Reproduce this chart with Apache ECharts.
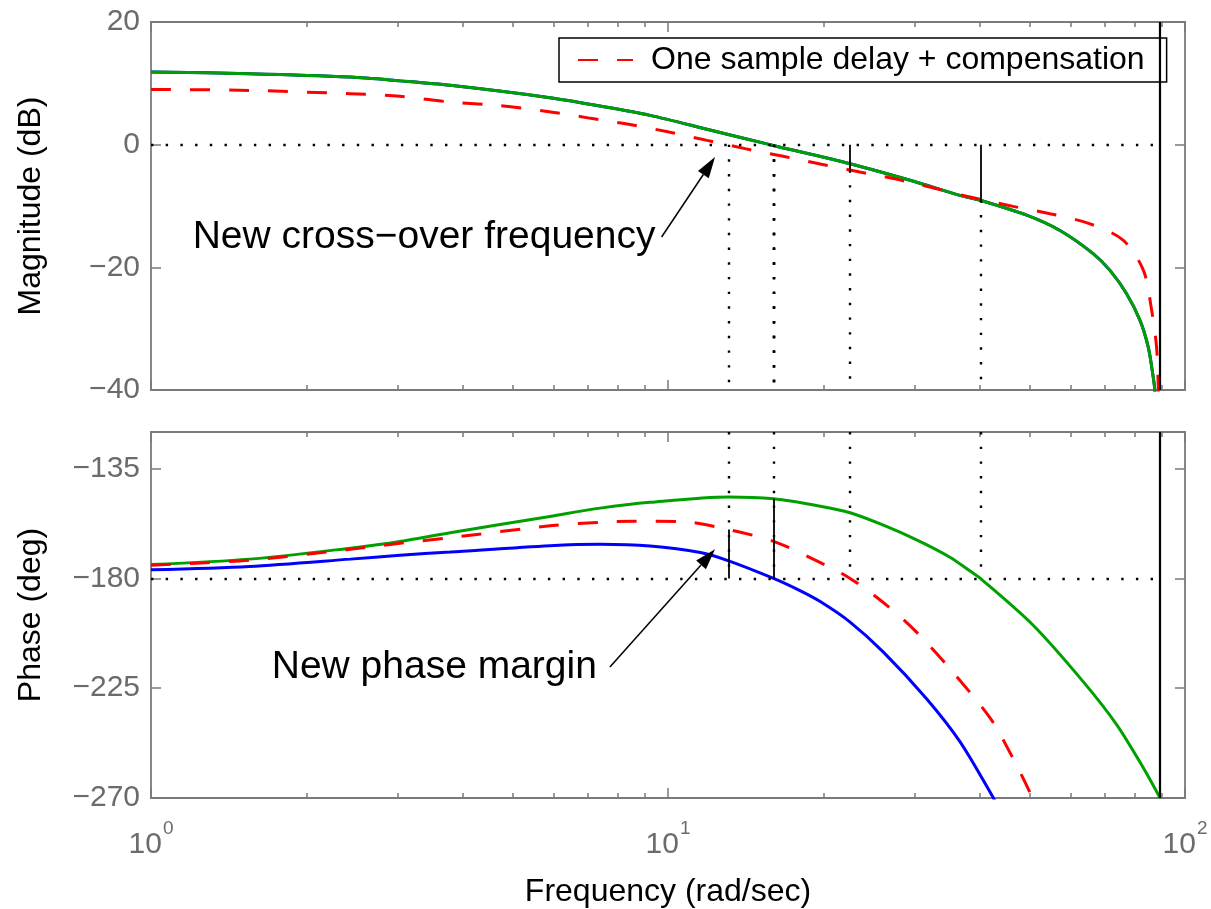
<!DOCTYPE html>
<html>
<head>
<meta charset="utf-8">
<script src="https://cdn.jsdelivr.net/npm/echarts@6/dist/echarts.min.js"></script>
<style>
  html, body { margin: 0; padding: 0; background: #ffffff; }
  #chart { width: 1211px; height: 909px; }
</style>
</head>
<body>
<div id="chart"></div>
<script>
// ---- Axis ranges and tick values ----
const freqRange = [1, 100];                       // rad/sec
const freqMajorTicks = [1, 10, 100];
const freqMinorTicks = [2, 3, 4, 5, 6, 7, 8, 9, 20, 30, 40, 50, 60, 70, 80, 90];
const magRange = [-40, 20];                       // dB
const magTicks = [-40, -20, 0, 20];
const phaseRange = [-270, -120];                  // deg
const phaseTicks = [-270, -225, -180, -135];

// ---- Loop magnitude (the sample delay does not change magnitude) ----
const magFreqOriginal = [1.0, 1.55, 2.43, 3.03, 3.79, 5.91, 7.39, 9.23, 12.0, 15.75, 22.5, 29.4, 36.7, 40.2, 49.4, 57.3, 66.5, 71.6, 77.1, 81.8, 84.9, 86.8, 87.4, 88.2];
const magOriginal     = [11.85, 11.57, 11.02, 10.4, 9.67, 7.66, 6.3, 4.78, 2.44, 0, -3.1, -5.8, -8.27, -9.08, -11.5, -14.0, -17.8, -20.5, -24.3, -28.6, -33.0, -37.9, -40, -48];

// ---- Magnitude with one sample delay + compensation ----
const magFreqComp = [1.0, 1.55, 2.43, 3.03, 3.79, 4.7, 6.07, 7.09, 8.44, 10.05, 11.9, 14.1, 16.7, 19.8, 23.5, 27.9, 33.1, 37.8, 46.5, 54.8, 65.5, 76.0, 83.1, 86.2, 88.1, 88.8, 89.3];
const magComp     = [9.0, 8.85, 8.3, 7.9, 6.95, 6.4, 5.22, 4.29, 3.28, 2.05, 0.7, -0.65, -1.9, -3.2, -4.45, -5.7, -7.2, -8.4, -10.06, -11.25, -12.9, -15.6, -20.5, -27, -33, -40, -50];

// ---- Phase: original loop ----
const phaseFreqOriginal = [1.0, 1.55, 2.43, 3.03, 3.79, 5.91, 7.39, 9.23, 13.1, 16.0, 19.7, 22.5, 26.1, 30.4, 35.1, 38.4, 40.2, 50.9, 63.6, 73.8, 83.1, 89.5];
const phaseOriginal     = [-174.3, -172.1, -167.6, -164.9, -161.25, -154.6, -151.2, -148.8, -146.6, -147.4, -150.4, -153.1, -158.2, -164.4, -171.3, -177.0, -180, -199.3, -222.4, -240, -257.7, -270];

// ---- Phase: with one sample delay ----
const phaseFreqDelay = [1.0, 1.55, 2.43, 3.03, 3.79, 5.91, 7.39, 9.23, 11.55, 13.1, 16.0, 18.0, 19.7, 22.5, 26.1, 31.6, 36.7, 42.6, 43.5];
const phaseDelay     = [-176.5, -175.1, -172.1, -170.5, -169.2, -166.6, -166.0, -166.7, -169.4, -172.8, -180, -185, -189.5, -197.9, -210.2, -229.2, -246.9, -270, -274];

// ---- Phase: one sample delay + compensation ----
const phaseFreqComp = [1.0, 1.55, 2.43, 3.03, 3.79, 5.91, 7.39, 8.56, 10.7, 13.1, 16.0, 19.4, 22.5, 26.3, 30.05, 35.1, 42.0, 46.0, 50.1, 52.0];
const phaseComp     = [-174.6, -172.5, -168.1, -165.6, -163.3, -158.45, -157.0, -156.6, -156.8, -160, -164.8, -172.8, -180, -190.5, -201.4, -217, -237.3, -251.9, -267.6, -276];

// ---- Stability margins: [compensated, original, delayed] ----
const crossoverFreqs   = [13.1, 16.0, 16.0];      // 0 dB crossings
const phaseAtCrossover = [-160, -147.4, -180];
const phaseCrossFreqs  = [22.5, 40.2, 16.0];      // -180 deg crossings
const magAtPhaseCross  = [-4.2, -9.08, 0];
const nyquistFreq = 89.5;

const legendLabel = 'One sample delay + compensation';

// ---- Styling ----
const FONT = '"Liberation Sans", Arial, Helvetica, sans-serif';
const TICK_GREY = '#6b6b6b';
const LINE_GREY = '#7a7a7a';
const GREEN = '#00a000', RED = '#ff0000', BLUE = '#0000ff';

const chart = echarts.init(document.getElementById('chart'), null, { renderer: 'canvas' });

const minus = v => String(v).replace('-', '\u2212');

function freqAxis(gridIndex, position, ticks, len, extra) {
  return Object.assign({
    type: 'log', logBase: 10, gridIndex, position,
    min: freqRange[0], max: freqRange[1],
    axisLine: { show: false, onZero: false },
    axisTick: { show: true, inside: true, length: len, customValues: ticks,
                lineStyle: { color: LINE_GREY, width: 1.5 } },
    axisLabel: { show: false },
    splitLine: { show: false }, minorTick: { show: false },
    silent: true
  }, extra || {});
}
const boxLine = { show: true, onZero: false, lineStyle: { color: LINE_GREY, width: 1.8 } };

function valueAxis(gridIndex, position, range, ticks, withLabels, name) {
  const ax = {
    type: 'value', gridIndex, position, min: range[0], max: range[1],
    axisLine: boxLine,
    axisTick: { show: true, inside: true, length: 10, customValues: ticks,
                lineStyle: { color: LINE_GREY, width: 1.5 } },
    axisLabel: { show: withLabels, customValues: ticks, formatter: minus, margin: 11,
                 color: TICK_GREY, fontSize: 30, fontFamily: FONT },
    splitLine: { show: false }, silent: true
  };
  if (name) {
    Object.assign(ax, { name, nameLocation: 'middle', nameGap: 104, nameRotate: 90,
      nameTextStyle: { color: '#000', fontSize: 32, fontFamily: FONT } });
  }
  return ax;
}

const xAxes = [];
[0, 1].forEach(g => {
  const bottomMajor = { axisLine: boxLine };
  if (g === 1) {
    Object.assign(bottomMajor, {
      axisLabel: {
        show: true, customValues: freqMajorTicks, margin: 32,
        formatter: v => '{b|10}{s|' + Math.round(Math.log10(v)) + '}',
        rich: {
          b: { fontSize: 30, lineHeight: 30, fontFamily: FONT, color: TICK_GREY, verticalAlign: 'bottom' },
          s: { fontSize: 19, lineHeight: 19, fontFamily: FONT, color: TICK_GREY, verticalAlign: 'bottom', padding: [0, 0, 22, 1] }
        }
      },
      name: 'Frequency (rad/sec)', nameLocation: 'middle', nameGap: 78,
      nameTextStyle: { color: '#000', fontSize: 32, fontFamily: FONT }
    });
  }
  xAxes.push(freqAxis(g, 'bottom', freqMajorTicks, 10, bottomMajor));
  xAxes.push(freqAxis(g, 'bottom', freqMinorTicks, 5));
  xAxes.push(freqAxis(g, 'top', freqMajorTicks, 10, { axisLine: boxLine }));
  xAxes.push(freqAxis(g, 'top', freqMinorTicks, 5));
});

const yAxes = [
  valueAxis(0, 'left', magRange, magTicks, true, 'Magnitude (dB)'),
  valueAxis(0, 'right', magRange, magTicks, false),
  valueAxis(1, 'left', phaseRange, phaseTicks, true, 'Phase (deg)'),
  valueAxis(1, 'right', phaseRange, phaseTicks, false)
];

// ---- Guide lines (margins, reference levels, Nyquist frequency) ----
const dotted = { color: '#000', width: 2.4, type: [2.4, 12.3], cap: 'butt' };
const solid = { color: '#000', width: 1.8, type: 'solid' };
const nyquistStyle = { color: '#000', width: 2.2, type: 'solid' };
const seg = (a, b, style) => [{ coord: a, lineStyle: style }, { coord: b }];

const magGuides = [seg([freqRange[0], 0], [nyquistFreq, 0], dotted)];
crossoverFreqs.forEach(f => magGuides.push(seg([f, 0], [f, magRange[0]], dotted)));
phaseCrossFreqs.forEach((f, i) => {
  const m = magAtPhaseCross[i];
  if (m !== 0) magGuides.push(seg([f, 0], [f, m], solid));
  magGuides.push(seg([f, m], [f, magRange[0]], dotted));
});
magGuides.push(seg([nyquistFreq, magRange[1]], [nyquistFreq, magRange[0]], nyquistStyle));

const phaseGuides = [seg([freqRange[0], -180], [nyquistFreq, -180], dotted)];
Array.from(new Set(crossoverFreqs.concat(phaseCrossFreqs))).forEach(f =>
  phaseGuides.push(seg([f, phaseRange[1]], [f, -180], dotted)));
crossoverFreqs.forEach((f, i) => {
  const p = phaseAtCrossover[i];
  if (p !== -180) phaseGuides.push(seg([f, -180], [f, p], solid));
});
phaseGuides.push(seg([nyquistFreq, phaseRange[1]], [nyquistFreq, phaseRange[0]], nyquistStyle));

function guideLines(data) {
  return { silent: true, symbol: ['none', 'none'], animation: false,
           label: { show: false }, emphasis: { disabled: true }, data };
}

function curve(name, grid, xs, ys, color, dashed, guides) {
  const s = {
    type: 'line', name, xAxisIndex: grid * 4, yAxisIndex: grid * 2,
    data: xs.map((x, i) => [x, ys[i]]),
    symbol: 'none', showSymbol: false, smooth: 0.3, clip: true,
    lineStyle: { color, width: 3, type: dashed ? [20, 19] : 'solid', cap: 'butt' },
    itemStyle: { color }, silent: true, animation: false
  };
  if (guides) s.markLine = guideLines(guides);
  return s;
}

const series = [
  curve('magDelayed', 0, magFreqOriginal, magOriginal, BLUE, false),
  curve('magOriginal', 0, magFreqOriginal, magOriginal, GREEN, false, magGuides),
  curve(legendLabel, 0, magFreqComp, magComp, RED, true),
  curve('phaseDelayed', 1, phaseFreqDelay, phaseDelay, BLUE, false),
  curve('phaseOriginal', 1, phaseFreqOriginal, phaseOriginal, GREEN, false, phaseGuides),
  curve(legendLabel, 1, phaseFreqComp, phaseComp, RED, true)
];

chart.setOption({
  backgroundColor: '#ffffff',
  animation: false,
  textStyle: { fontFamily: FONT },
  grid: [
    { left: 151, top: 22, width: 1034, height: 368 },
    { left: 151, top: 432, width: 1034, height: 368 }
  ],
  xAxis: xAxes,
  yAxis: yAxes,
  legend: {
    data: [legendLabel], left: 559, top: 38, orient: 'horizontal',
    padding: [6, 22, 6, 18], itemWidth: 55, itemHeight: 14, itemGap: 0,
    borderColor: '#000', borderWidth: 1.5, backgroundColor: '#ffffff',
    selectedMode: false,
    itemStyle: { opacity: 0 },
    lineStyle: { inherit: true },
    textStyle: { color: '#000', fontSize: 32, fontFamily: FONT, padding: [0, 0, 0, 13] }
  },
  series
});

// ---- Text annotations with arrows, placed in data coordinates ----
const annotations = [
  { grid: 0, text: 'New cross\u2212over frequency', textAt: [1.204, -15.03],
    arrowFrom: [9.72, -15.06], arrowTo: [12.33, -2.02] },
  { grid: 1, text: 'New phase margin', textAt: [1.712, -216.3],
    arrowFrom: [7.72, -216.3], arrowTo: [12.33, -168.06] }
];

function drawAnnotations() {
  const toPx = (g, p) => chart.convertToPixel({ xAxisIndex: g * 4, yAxisIndex: g * 2 }, p);
  const els = [];
  annotations.forEach(a => {
    const t = toPx(a.grid, a.textAt);
    els.push({ type: 'text', x: t[0], y: t[1], silent: true, z: 100,
      style: { text: a.text, fontSize: 39, fontFamily: FONT, fill: '#000',
               align: 'left', verticalAlign: 'middle' } });
    const tail = toPx(a.grid, a.arrowFrom), tip = toPx(a.grid, a.arrowTo);
    const dx = tip[0] - tail[0], dy = tip[1] - tail[1];
    const len = Math.hypot(dx, dy), ux = dx / len, uy = dy / len;
    const headLen = 21, headHalf = 6.5;
    const base = [tip[0] - ux * headLen, tip[1] - uy * headLen];
    els.push({ type: 'line', silent: true, z: 100,
      shape: { x1: tail[0], y1: tail[1], x2: base[0], y2: base[1] },
      style: { stroke: '#000', lineWidth: 1.5 } });
    els.push({ type: 'polygon', silent: true, z: 100,
      shape: { points: [tip, [base[0] - uy * headHalf, base[1] + ux * headHalf],
                             [base[0] + uy * headHalf, base[1] - ux * headHalf]] },
      style: { fill: '#000' } });
  });
  chart.setOption({ graphic: els });
}
drawAnnotations();
</script>
</body>
</html>
